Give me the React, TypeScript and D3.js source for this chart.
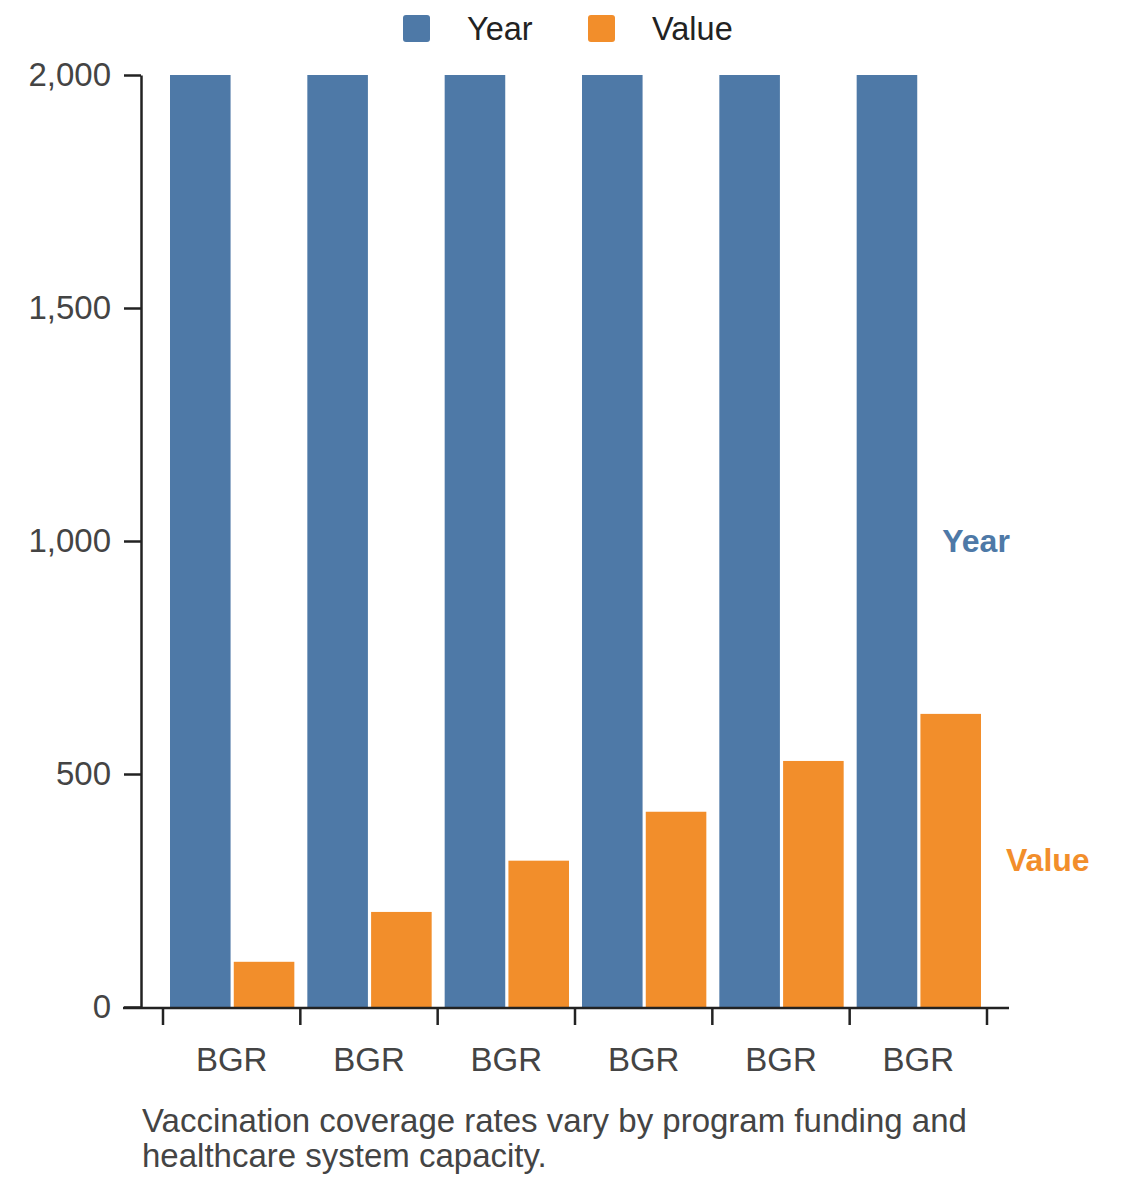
import React, { useEffect, useRef } from "react";
import * as d3 from "d3";

const categories = ["BGR", "BGR", "BGR", "BGR", "BGR", "BGR"];
const seriesNames = ["Year", "Value"];
const yearValues = [2000, 2000, 2000, 2000, 2000, 2000];
const valueValues = [97, 204, 314, 419, 528, 629];
const yTicks = [0, 500, 1000, 1500, 2000];
const colors = ["#4e79a7", "#f28e2b"];
const caption = [
  "Vaccination coverage rates vary by program funding and",
  "healthcare system capacity.",
];

const W = 1140;
const H = 1182;
const FONT = "'Liberation Sans', Arial, Helvetica, sans-serif";

export default function App() {
  const yAxisRef = useRef<SVGGElement>(null);

  const y = d3.scaleLinear().domain([0, 2000]).range([1007, 75]).clamp(true);
  const x0 = d3
    .scaleBand<number>()
    .domain(categories.map((_, i) => i))
    .range([163, 987])
    .padding(0);
  const x1 = d3
    .scaleBand<string>()
    .domain(seriesNames)
    .range([7, x0.bandwidth() - 6])
    .paddingInner(0.05);

  const series = [yearValues, valueValues];

  useEffect(() => {
    if (!yAxisRef.current) return;
    const g = d3.select(yAxisRef.current);
    g.selectAll("*").remove();
    g.call(
      d3
        .axisLeft(y)
        .tickValues(yTicks)
        .tickSize(17)
        .tickSizeOuter(0)
        .tickPadding(13)
        .tickFormat((d) => d3.format(",")(d as number))
    );
    g.select(".domain").attr("stroke", "#222").attr("stroke-width", 2.5);
    g.selectAll(".tick line").attr("stroke", "#222").attr("stroke-width", 2.5);
    g.selectAll(".tick text")
      .attr("fill", "#444")
      .style("font-family", FONT)
      .style("font-size", "33px");
  }, []);

  const last = categories.length - 1;
  const boundaries = categories.map((_, i) => x0(i)!).concat([x0(last)! + x0.bandwidth()]);

  return (
    <svg
      width={W}
      height={H}
      style={{ position: "absolute", left: 0, top: 0, background: "#fff" }}
      fontFamily={FONT}
    >
      {/* legend */}
      {seriesNames.map((s, i) => {
        const lx = [403, 588][i];
        return (
          <g key={s}>
            <rect x={lx} y={15} width={27} height={27} rx={3} fill={colors[i]} />
            <text x={lx + 64} y={29} dominantBaseline="central" fontSize={32.5} fill="#222">
              {s}
            </text>
          </g>
        );
      })}

      {/* bars */}
      {categories.map((c, i) => (
        <g key={i} transform={`translate(${x0(i)},0)`}>
          {seriesNames.map((s, j) => {
            const v = series[j][i];
            return (
              <rect
                key={s}
                x={x1(s)}
                y={y(v)}
                width={x1.bandwidth()}
                height={y(0) - y(v)}
                fill={colors[j]}
              />
            );
          })}
        </g>
      ))}

      {/* series end labels */}
      {seriesNames.map((s, j) => {
        const v = series[j][last];
        return (
          <text
            key={s}
            x={x0(last)! + x1(s)! + x1.bandwidth() + 25}
            y={y(v / 2)}
            dominantBaseline="central"
            fontSize={32}
            fontWeight="bold"
            fill={colors[j]}
          >
            {s}
          </text>
        );
      })}

      {/* y axis */}
      <g ref={yAxisRef} transform="translate(141,0)" />

      {/* x axis */}
      <g>
        <line x1={123} x2={1009} y1={1008} y2={1008} stroke="#222" strokeWidth={2.5} />
        {boundaries.map((bx, i) => (
          <line key={i} x1={bx} x2={bx} y1={1008} y2={1025} stroke="#222" strokeWidth={2.5} />
        ))}
        {categories.map((c, i) => (
          <text
            key={i}
            x={x0(i)! + x0.bandwidth() / 2}
            y={1059}
            dominantBaseline="central"
            textAnchor="middle"
            fontSize={33}
            fill="#444"
          >
            {c}
          </text>
        ))}
      </g>

      {/* caption */}
      {caption.map((line, i) => (
        <text key={i} x={142} y={1132 + i * 35} fontSize={33} fill="#444">
          {line}
        </text>
      ))}
    </svg>
  );
}
